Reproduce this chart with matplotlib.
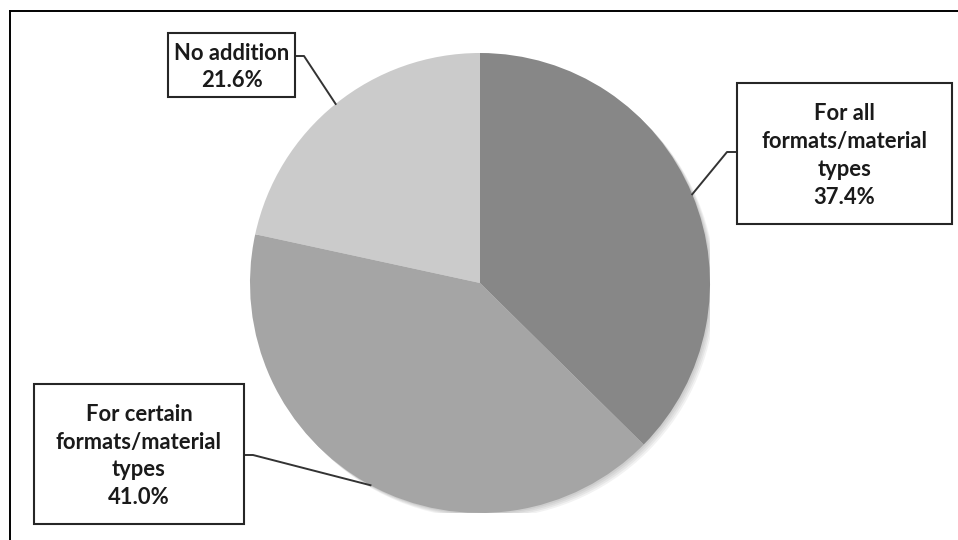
"""Pie chart: additions by format/material type."""

import matplotlib.pyplot as plt
from matplotlib.lines import Line2D
from matplotlib.patches import Circle, Rectangle
import numpy as np

labels = ["For all\nformats/material\ntypes", "For certain\nformats/material\ntypes", "No addition"]
shares = [37.4, 41.0, 21.6]
colors = ["#878787", "#a5a5a5", "#cbcbcb"]

# label boxes in figure pixels (left, top, right, bottom) measured from the top edge,
# plus the y of the leader stub
boxes = [(737, 83, 952, 224), (34, 384, 244, 524), (168, 33, 295, 97)]
stub_y = [152, 455, 56]
stub_side = ["left", "right", "right"]

W, H = 958, 540
plt.rcParams["font.family"] = ["Lato", "DejaVu Sans"]

fig = plt.figure(figsize=(W / 100, H / 100), dpi=100)
fig.patch.set_facecolor("white")

cx, cy, r = 480, 283, 230
ax = fig.add_axes([(cx - r) / W, (H - cy - r) / H, 2 * r / W, 2 * r / H])
ax.axis("off")

# soft shadow under the pie
for k in range(4):
    ax.add_patch(Circle((0.006 * (k + 1), -0.006 * (k + 1)), 1.0, color="black", alpha=0.05, lw=0, zorder=0))

wedges, _ = ax.pie(shares, colors=colors, startangle=90, counterclock=False, radius=1,
                   wedgeprops=dict(linewidth=0, zorder=1))
ax.set_xlim(-1, 1)
ax.set_ylim(-1, 1)
ax.set_aspect("equal")


def to_fig(x, y):
    # figure pixel coords measured from top -> figure fraction
    return x / W, 1 - y / H


for wedge, label, share, box, sy, side in zip(wedges, labels, shares, boxes, stub_y, stub_side):
    left, top, right, bottom = box
    x0, y0 = to_fig(left, bottom)
    x1, y1 = to_fig(right, top)
    fig.add_artist(Rectangle((x0, y0), x1 - x0, y1 - y0, transform=fig.transFigure,
                             facecolor="white", edgecolor="#262626", linewidth=1.5, zorder=5))
    tx, ty = to_fig((left + right) / 2, (top + bottom) / 2 + 2)
    fig.text(tx, ty, f"{label}\n{share:.1f}%", ha="center", va="center",
             fontsize=15.8, fontweight="bold", color="#1a1a1a", linespacing=1.4, zorder=6)

    theta = np.deg2rad((wedge.theta1 + wedge.theta2) / 2)
    px = cx + r * np.cos(theta)
    py = cy - r * np.sin(theta)
    edge_x = left if side == "left" else right
    stub_x = edge_x - 10 if side == "left" else edge_x + 9
    xs, ys = zip(*[to_fig(edge_x, sy), to_fig(stub_x, sy), to_fig(px, py)])
    fig.add_artist(Line2D(xs, ys, transform=fig.transFigure, color="#333333", linewidth=1.4, zorder=4))

# frame lines on the top and left edges
fig.add_artist(Line2D([10 / W, 10 / W], [0, 1 - 11 / H], transform=fig.transFigure, color="black", linewidth=1.4))
fig.add_artist(Line2D([10 / W, 1], [1 - 11 / H, 1 - 11 / H], transform=fig.transFigure, color="black", linewidth=1.4))

fig.savefig("out.png", dpi=100)
